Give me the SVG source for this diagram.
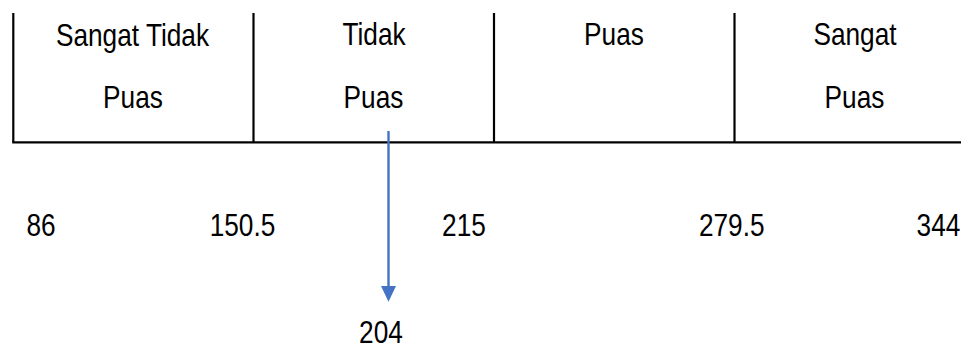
<svg xmlns="http://www.w3.org/2000/svg" width="961" height="347" viewBox="0 0 961 347">
<style>
.t{font-family:"Liberation Sans",Arial,sans-serif;font-size:32px;fill:#000;text-anchor:middle}
.ln{stroke:#000;stroke-width:2.2;fill:none}
.ar{stroke:#4472C4;stroke-width:2.4;fill:none}
</style>
<rect width="961" height="347" fill="#fff"/>
<g id="grid">
<line class="ln" x1="13.3" y1="13" x2="13.3" y2="142.3"/>
<line class="ln" x1="253.5" y1="13" x2="253.5" y2="142.3"/>
<line class="ln" x1="494" y1="13" x2="494" y2="142.3"/>
<line class="ln" x1="734.5" y1="13" x2="734.5" y2="142.3"/>
<line class="ln" x1="12.2" y1="142.3" x2="961" y2="142.3"/>
</g>
<g id="col1">
<text class="t" transform="translate(132.5,46) scale(0.82,1)">Sangat Tidak</text>
<text class="t" transform="translate(133,108) scale(0.82,1)">Puas</text>
</g>
<g id="col2">
<text class="t" transform="translate(374,45) scale(0.82,1)">Tidak</text>
<text class="t" transform="translate(373.5,108) scale(0.82,1)">Puas</text>
</g>
<g id="col3">
<text class="t" transform="translate(614,45) scale(0.82,1)">Puas</text>
</g>
<g id="col4">
<text class="t" transform="translate(855,45) scale(0.82,1)">Sangat</text>
<text class="t" transform="translate(854.5,108) scale(0.82,1)">Puas</text>
</g>
<g id="scale">
<text class="t" transform="translate(41,236) scale(0.82,1)">86</text>
<text class="t" transform="translate(242.5,236) scale(0.82,1)">150.5</text>
<text class="t" transform="translate(464,236) scale(0.82,1)">215</text>
<text class="t" transform="translate(731.7,236) scale(0.82,1)">279.5</text>
<text class="t" transform="translate(938.5,236) scale(0.82,1)">344</text>
</g>
<g id="connectors">
<line class="ar" x1="388.5" y1="131" x2="388.5" y2="288"/>
<polygon points="381,286 396,286 388.5,301.7" fill="#4472C4"/>
</g>
<g id="marker-value">
<text class="t" transform="translate(381,343) scale(0.82,1)">204</text>
</g>
</svg>
